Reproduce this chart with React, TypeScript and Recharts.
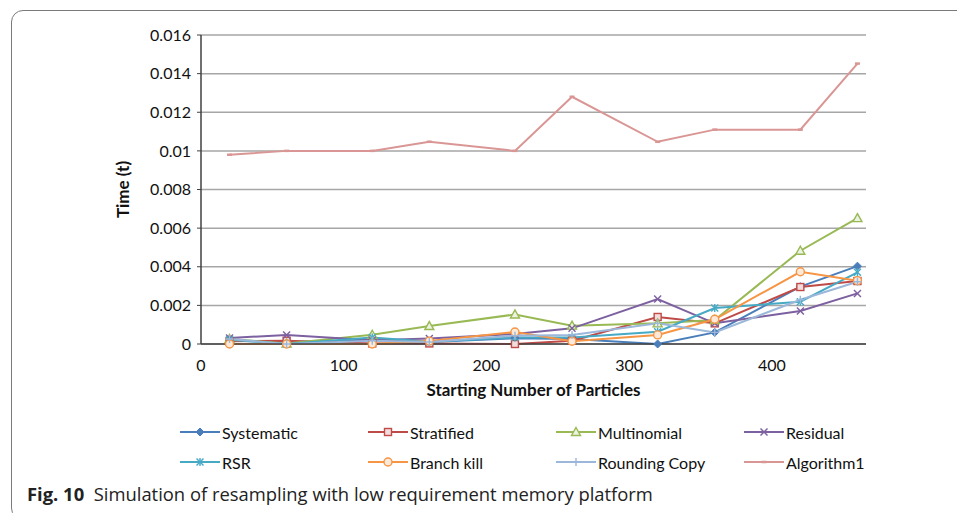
import React from 'react';
import { LineChart, Line, XAxis, YAxis, CartesianGrid } from 'recharts';

const xValues = [20, 60, 120, 160, 220, 260, 320, 360, 420, 460];
const systematic = [0.00017, 0.0001, 0.0002, 0.0001, 0.0003, 0.00026, 0.0, 0.0006, 0.00297, 0.00403];
const stratified = [0.00014, 0.00017, 0.00003, 0.00003, 0.0, 0.00017, 0.0014, 0.00107, 0.00295, 0.00326];
const multinomial = [0.00026, 0.00002, 0.00048, 0.00093, 0.00153, 0.00095, 0.00107, 0.00124, 0.00483, 0.00652];
const residual = [0.00031, 0.00047, 0.0002, 0.00029, 0.00052, 0.00081, 0.00233, 0.00107, 0.00171, 0.00262];
const rsr = [0.00022, 0.0, 0.00034, 0.00012, 0.00034, 0.00034, 0.00064, 0.00186, 0.00219, 0.00371];
const branchKill = [0.0, 0.0, 0.0, 0.00015, 0.00062, 0.00014, 0.00047, 0.00128, 0.00374, 0.00328];
const roundingCopy = [0.00026, 0.0, 0.00017, 0.0001, 0.00043, 0.00047, 0.00107, 0.0006, 0.00229, 0.00322];
const algorithm1 = [0.0098, 0.01, 0.01, 0.01047, 0.01, 0.0128, 0.01047, 0.0111, 0.0111, 0.01452];

const xTicks = [0, 100, 200, 300, 400];
const yTicks = [0, 0.002, 0.004, 0.006, 0.008, 0.01, 0.012, 0.014, 0.016];

const series = [
  { key: 'Systematic', values: systematic, color: '#4A7EBB', shape: 'diamond' },
  { key: 'Stratified', values: stratified, color: '#BE4B48', shape: 'square' },
  { key: 'Multinomial', values: multinomial, color: '#98B954', shape: 'triangle' },
  { key: 'Residual', values: residual, color: '#7D60A0', shape: 'x' },
  { key: 'RSR', values: rsr, color: '#46AAC5', shape: 'star' },
  { key: 'Branch kill', values: branchKill, color: '#F69544', shape: 'circle' },
  { key: 'Rounding Copy', values: roundingCopy, color: '#9BB7D9', shape: 'plus' },
  { key: 'Algorithm1', values: algorithm1, color: '#D99694', shape: 'dash' },
];

const data = xValues.map((x, i) => {
  const row: any = { x };
  series.forEach((s) => {
    row[s.key] = s.values[i];
  });
  return row;
});

const FONT = 'Lato, "Liberation Sans", sans-serif';

function Marker({ cx, cy, shape, color }: { cx: number; cy: number; shape: string; color: string }) {
  const sw = 1.4;
  switch (shape) {
    case 'diamond':
      return <polygon points={`${cx},${cy - 4} ${cx + 4},${cy} ${cx},${cy + 4} ${cx - 4},${cy}`} fill={color} stroke={color} strokeWidth={1} />;
    case 'square':
      return <rect x={cx - 3.5} y={cy - 3.5} width={7} height={7} fill="#f3dcdc" stroke={color} strokeWidth={sw} />;
    case 'triangle':
      return <polygon points={`${cx},${cy - 4.5} ${cx + 4.5},${cy + 3.5} ${cx - 4.5},${cy + 3.5}`} fill="#edf3e2" stroke={color} strokeWidth={sw} />;
    case 'x':
      return (
        <g stroke={color} strokeWidth={sw}>
          <line x1={cx - 3.5} y1={cy - 3.5} x2={cx + 3.5} y2={cy + 3.5} />
          <line x1={cx - 3.5} y1={cy + 3.5} x2={cx + 3.5} y2={cy - 3.5} />
        </g>
      );
    case 'star':
      return (
        <g stroke={color} strokeWidth={sw}>
          <line x1={cx - 3.5} y1={cy - 3.5} x2={cx + 3.5} y2={cy + 3.5} />
          <line x1={cx - 3.5} y1={cy + 3.5} x2={cx + 3.5} y2={cy - 3.5} />
          <line x1={cx} y1={cy - 4} x2={cx} y2={cy + 4} />
        </g>
      );
    case 'circle':
      return <circle cx={cx} cy={cy} r={4} fill="#fde9d9" stroke={color} strokeWidth={sw} />;
    case 'plus':
      return (
        <g stroke={color} strokeWidth={sw}>
          <line x1={cx - 4} y1={cy} x2={cx + 4} y2={cy} />
          <line x1={cx} y1={cy - 4} x2={cx} y2={cy + 4} />
        </g>
      );
    case 'dash':
    default:
      return <line x1={cx - 2.5} y1={cy} x2={cx + 2.5} y2={cy} stroke={color} strokeWidth={2.5} />;
  }
}

const legendCols = [180, 368, 556, 744];
const legendRows = [432, 462];

function LegendBlock() {
  return (
    <>
      {series.map((s, i) => {
        const col = i % 4;
        const row = Math.floor(i / 4);
        return (
          <div
            key={s.key}
            style={{
              position: 'absolute',
              left: legendCols[col],
              top: legendRows[row] - 11,
              height: 22,
              display: 'flex',
              alignItems: 'center',
              fontFamily: FONT,
              fontSize: 16,
              color: '#111',
              whiteSpace: 'nowrap',
            }}
          >
            <svg width={40} height={12} style={{ marginRight: 2 }}>
              <line x1={0} y1={6} x2={40} y2={6} stroke={s.color} strokeWidth={2} />
              <Marker cx={20} cy={6} shape={s.shape} color={s.color} />
            </svg>
            <span>{s.key}</span>
          </div>
        );
      })}
    </>
  );
}

const yFmt = (v: number) => (v === 0 ? '0' : String(parseFloat(v.toFixed(3))));

export default function App() {
  return (
    <div style={{ position: 'absolute', left: 0, top: 0, width: 957, height: 513, background: '#fff', overflow: 'hidden' }}>
      <div
        style={{
          position: 'absolute',
          left: 11,
          top: 10,
          width: 980,
          height: 508,
          border: '1.5px solid #7a7a7a',
          borderTopLeftRadius: 12,
          borderBottomLeftRadius: 12,
        }}
      />
      <div style={{ position: 'absolute', left: 0, top: 0 }}>
        <LineChart width={957} height={513} data={data} margin={{ top: 35, right: 91, bottom: 119, left: 121 }}>
          <CartesianGrid horizontal vertical={false} stroke="#a6a6a6" strokeWidth={1.5} />
          <XAxis
            dataKey="x"
            type="number"
            domain={[0, 466]}
            ticks={xTicks}
            allowDataOverflow
            tickLine={false}
            axisLine={{ stroke: '#404040', strokeWidth: 1.5 }}
            tick={{ fill: '#111', fontSize: 16, fontFamily: FONT }}
            tickMargin={10}
            height={50}
            label={{ value: 'Starting Number of Particles', position: 'insideBottom', offset: -2, style: { fontFamily: FONT, fontSize: 17, fontWeight: 700, fill: '#111' } }}
          />
          <YAxis
            type="number"
            domain={[0, 0.016]}
            ticks={yTicks}
            tickFormatter={yFmt}
            width={80}
            tickSize={4}
            tickMargin={6}
            tickLine={{ stroke: '#404040' }}
            axisLine={{ stroke: '#404040', strokeWidth: 1.5 }}
            tick={{ fill: '#111', fontSize: 16, fontFamily: FONT }}
            label={{ value: 'Time (t)', angle: -90, position: 'insideLeft', offset: 0, dx: 2, style: { textAnchor: 'middle', fontFamily: FONT, fontSize: 17, fontWeight: 700, fill: '#111' } }}
          />
          {series.map((s) => (
            <Line
              key={s.key}
              dataKey={s.key}
              stroke={s.color}
              strokeWidth={2}
              isAnimationActive={false}
              dot={(p: any) => <Marker key={`${s.key}-${p.index}`} cx={p.cx} cy={p.cy} shape={s.shape} color={s.color} />}
              activeDot={false}
            />
          ))}
        </LineChart>
      </div>
      <LegendBlock />
      <div style={{ position: 'absolute', left: 27, top: 481, fontFamily: '"Open Sans", sans-serif', fontSize: 18.4, color: '#222', whiteSpace: 'nowrap' }}>
        <b>Fig. 10</b>&nbsp;&nbsp;Simulation of resampling with low requirement memory platform
      </div>
    </div>
  );
}
